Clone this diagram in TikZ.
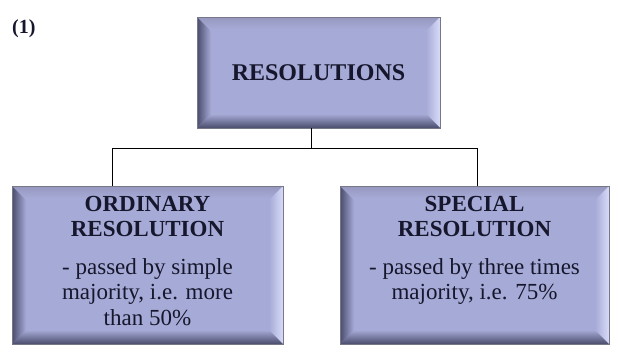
\documentclass[tikz,border=0pt]{standalone}
\usepackage{fontspec}
\setmainfont{Liberation Serif}
\usetikzlibrary{calc}

\definecolor{boxbase}{RGB}{166,170,214}
\definecolor{boxdark}{RGB}{74,76,108}
\definecolor{boxlight}{RGB}{216,220,248}
\definecolor{boxtop}{RGB}{150,152,190}
\definecolor{boxrim}{RGB}{118,120,138}
\definecolor{textcol}{RGB}{22,22,44}

\tikzset{
  bevelbox/.style={
    draw=boxrim, line width=0.8pt, fill=boxbase, inner sep=0pt,
    path picture={
      \coordinate (bbsw) at (path picture bounding box.south west);
      \coordinate (bbne) at (path picture bounding box.north east);
      \coordinate (bbnw) at (bbsw |- bbne);
      \coordinate (bbse) at (bbne |- bbsw);
      % top rim
      \shade[top color=boxtop, bottom color=boxbase]
        (bbnw) -- (bbne) -- ($(bbne)+(-12pt,-12pt)$) -- ($(bbnw)+(12pt,-12pt)$) -- cycle;
      % right rim (light)
      \shade[right color=boxlight, left color=boxbase]
        (bbne) -- (bbse) -- ($(bbse)+(-14pt,14pt)$) -- ($(bbne)+(-14pt,-14pt)$) -- cycle;
      % bottom rim (dark)
      \shade[bottom color=boxdark, top color=boxbase]
        (bbsw) -- (bbse) -- ($(bbse)+(-14pt,14pt)$) -- ($(bbsw)+(14pt,14pt)$) -- cycle;
      % left rim (dark)
      \shade[left color=boxdark, right color=boxbase]
        (bbsw) -- (bbnw) -- ($(bbnw)+(14pt,-14pt)$) -- ($(bbsw)+(14pt,14pt)$) -- cycle;
    }},
  boxtext/.style={text=textcol, align=center, inner sep=0pt,
    font=\fontsize{23}{25.5}\selectfont},
  wire/.style={draw=black, line width=0.9pt},
}

\begin{document}
\begin{tikzpicture}[x=1pt, y=-1pt]
  \useasboundingbox (0,0) rectangle (620,360);
  \fill[white] (0,0) rectangle (620,360);

  \node[anchor=west, text=textcol, font=\bfseries\fontsize{20}{22}\selectfont, inner sep=0pt]
    (num) at (12,29) {(1)};

  % boxes
  \node[bevelbox, minimum width=243pt, minimum height=111pt] (top) at (318.5,72.5) {};
  \node[bevelbox, minimum width=271pt, minimum height=158pt] (left) at (147.5,265) {};
  \node[bevelbox, minimum width=269pt, minimum height=158pt] (right) at (474.5,265) {};

  % labels
  \node[boxtext, font=\bfseries\fontsize{24}{26}\selectfont] (toptext) at (top.center) {RESOLUTIONS};
  \node[boxtext, anchor=north, yshift=-10pt] (lefttext) at (left.north)
    {\textbf{ORDINARY}\\\textbf{RESOLUTION}\\[12pt]- passed by simple\\majority, i.e. more\\than 50\%};
  \node[boxtext, anchor=north, yshift=-10pt] (righttext) at (right.north)
    {\textbf{SPECIAL}\\\textbf{RESOLUTION}\\[12pt]- passed by three times\\majority, i.e. 75\%};

  % connectors
  \coordinate (j) at (311,148);
  \coordinate (jl) at (112,148);
  \coordinate (jr) at (477,148);
  \draw[wire] (top.south -| j) -- (j);
  \draw[wire] (jl |- left.north) -- (jl) -- (jr) -- (jr |- right.north);
\end{tikzpicture}
\end{document}
